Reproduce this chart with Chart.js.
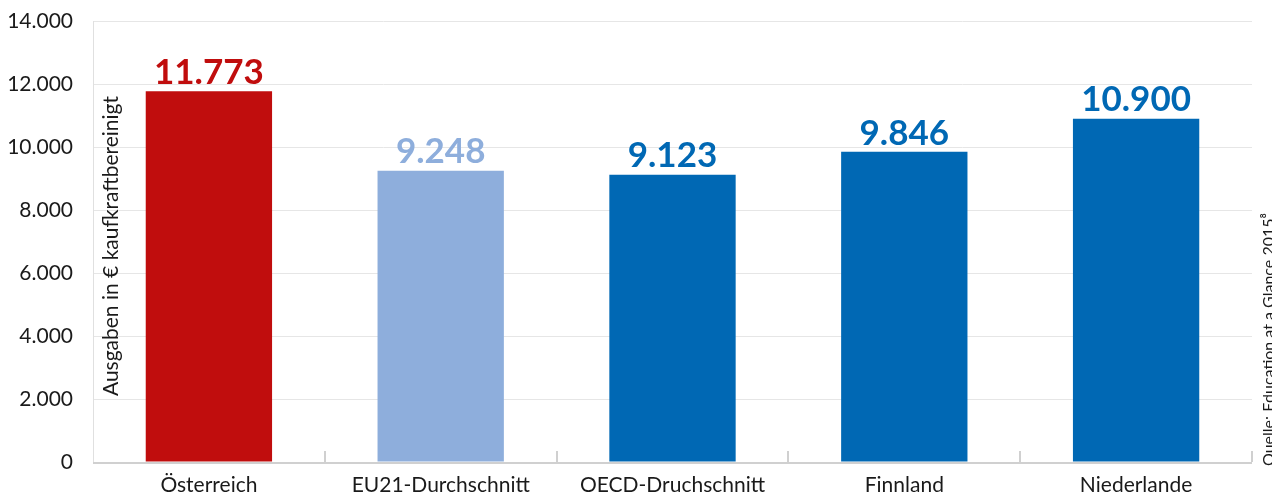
<!DOCTYPE html>
<html>
<head>
<meta charset="utf-8">
<script src="https://cdn.jsdelivr.net/npm/chart.js@4"></script>
<style>
  html, body { margin: 0; padding: 0; background: #fff; }
  #wrap { width: 1272px; height: 495px; }
</style>
</head>
<body>
<div id="wrap"><canvas id="chart" width="1272" height="495"></canvas></div>
<script>
// ─── Data ────────────────────────────────────────────────────
const categories = ['Österreich', 'EU21-Durchschnitt', 'OECD-Druchschnitt', 'Finnland', 'Niederlande'];
const spending   = [11773, 9248, 9123, 9846, 10900];
const barColors  = ['#c00d0d', '#8eaedc', '#0068b4', '#0068b4', '#0068b4'];
const yTicks     = [0, 2000, 4000, 6000, 8000, 10000, 12000, 14000];
const yTitle     = 'Ausgaben in € kaufkraftbereinigt';
const sourceText = 'Quelle: Education at a Glance 2015⁸';

const fmt = v => v.toLocaleString('de-DE');

// value labels, axis title inside plot, category ticks, source note
const extras = {
  id: 'extras',
  afterDatasetsDraw(chart) {
    const { ctx, chartArea: a, scales: { x, y } } = chart;
    const meta = chart.getDatasetMeta(0);

    ctx.save();
    ctx.font = 'bold 35px Lato';
    ctx.textAlign = 'center';
    ctx.textBaseline = 'bottom';
    meta.data.forEach((bar, i) => {
      ctx.fillStyle = barColors[i];
      ctx.fillText(fmt(spending[i]), bar.x, bar.y - 1);
    });

    // short upward ticks between categories
    ctx.strokeStyle = '#d0d0d0';
    ctx.lineWidth = 2;
    const step = x.getPixelForValue(1) - x.getPixelForValue(0);
    for (let i = 1; i <= categories.length; i++) {
      const px = Math.round(x.getPixelForValue(i) - step / 2);
      ctx.beginPath();
      ctx.moveTo(px, a.bottom);
      ctx.lineTo(px, a.bottom - 11);
      ctx.stroke();
    }
    // bottom axis line
    ctx.beginPath();
    ctx.moveTo(a.left, a.bottom + 1);
    ctx.lineTo(a.right, a.bottom + 1);
    ctx.stroke();

    // y title
    ctx.fillStyle = '#1a1a1a';
    ctx.font = '21px Lato';
    ctx.textBaseline = 'middle';
    ctx.translate(111, 246);
    ctx.rotate(-Math.PI / 2);
    ctx.fillText(yTitle, 0, 0);
    ctx.restore();

    // source
    ctx.save();
    ctx.fillStyle = '#1a1a1a';
    ctx.font = '16px Lato';
    ctx.textAlign = 'left';
    ctx.textBaseline = 'middle';
    ctx.translate(1269, 466);
    ctx.rotate(-Math.PI / 2);
    ctx.fillText(sourceText, 0, 0);
    ctx.restore();
  }
};

new Chart(document.getElementById('chart'), {
  type: 'bar',
  data: {
    labels: categories,
    datasets: [{
      data: spending,
      backgroundColor: barColors,
      borderWidth: 0,
      categoryPercentage: 0.545,
      barPercentage: 1,
    }]
  },
  options: {
    responsive: false,
    animation: false,
    events: [],
    layout: { padding: { left: 0, right: 20, top: 21, bottom: 0 } },
    plugins: {
      legend: { display: false },
      tooltip: { enabled: false },
    },
    scales: {
      x: {
        grid: { display: false, drawTicks: false },
        border: { display: false },
        ticks: { color: '#1a1a1a', font: { family: 'Lato', size: 21 }, padding: 11 },
        afterFit: s => { s.height = 33; s.paddingLeft = 0; s.paddingRight = 0; },
      },
      y: {
        min: 0,
        max: 14000,
        afterBuildTicks: s => { s.ticks = yTicks.map(v => ({ value: v })); },
        grid: { color: '#e6e6e6', drawTicks: false },
        border: { display: true, color: '#e0e0e0' },
        ticks: {
          color: '#1a1a1a',
          font: { family: 'Lato', size: 21 },
          padding: 20,
          callback: v => fmt(v),
        },
        afterFit: s => { s.width = 93; s.paddingTop = 0; s.paddingBottom = 0; },
      }
    }
  },
  plugins: [extras]
});
</script>
</body>
</html>
